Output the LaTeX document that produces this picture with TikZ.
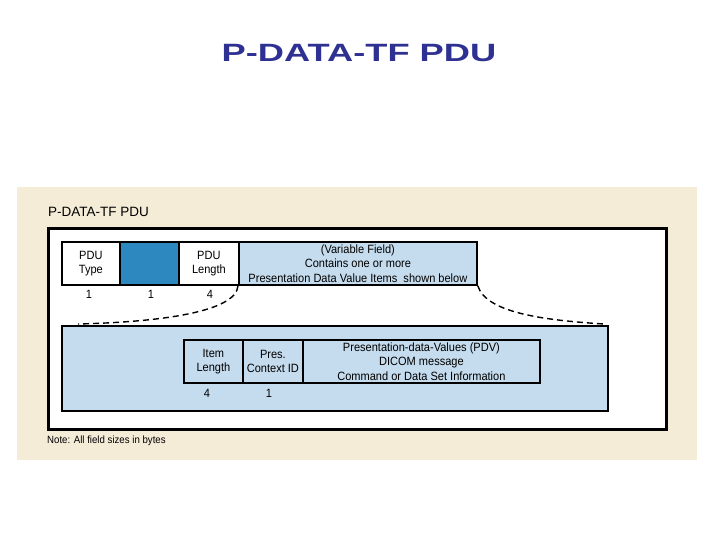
\documentclass[tikz,border=0pt]{standalone}
\usepackage{fontspec}
\setmainfont{Liberation Sans}
\newfontfamily\titlefont{Liberation Sans}[FakeStretch=1.45]
\newfontfamily\narrowfont{Liberation Sans}[FakeStretch=0.92]
\definecolor{beige}{HTML}{F5ECD8}
\definecolor{lightblu}{HTML}{C5DCEE}
\definecolor{darkblu}{HTML}{2E88C0}
\definecolor{navy}{HTML}{2E3192}
\begin{document}
\begin{tikzpicture}[x=1pt,y=-1pt,
  box/.style={draw=black, line width=1.8pt, anchor=north west, inner sep=0pt, align=center,
    font=\narrowfont\fontsize{12}{14.5}\selectfont},
  num/.style={font=\narrowfont\fontsize{12}{13}\selectfont, inner sep=0pt},
  smalltxt/.style={font=\narrowfont\fontsize{10.5}{12}\selectfont, inner sep=0pt, anchor=west},
  link/.style={draw=black, line width=1.4pt, dash pattern=on 6pt off 4pt}]
\useasboundingbox (0,0) rectangle (720,540);
\fill[white] (0,0) rectangle (720,540);
\node[fill=beige, anchor=north west, minimum width=680, minimum height=273, inner sep=0pt] (panel) at (17,187) {};
\node[font=\titlefont\bfseries\fontsize{25}{30}\selectfont, text=navy] (title) at (359,53) {P-DATA-TF PDU};
\node[font=\fontsize{13.5}{15}\selectfont, anchor=west, inner sep=0pt] (ptitle) at (48,212) {P-DATA-TF PDU};
\node[draw=black, fill=white, line width=3pt, anchor=north west, minimum width=618, minimum height=201, inner sep=0pt] (outer) at (47,227) {};
% top row
\node[box, fill=white, minimum width=58, minimum height=43] (ptype) at (61,241) {PDU\\Type};
\node[box, fill=darkblu, minimum width=59, minimum height=43] (blank) at (119,241) {};
\node[box, fill=white, minimum width=60, minimum height=43] (plen) at (178,241) {PDU\\Length};
\node[box, fill=lightblu, minimum width=238, minimum height=43] (var) at (238,241) {(Variable Field)\\Contains one or more\\Presentation Data Value Items\ \ shown below};
\node[num] (n1) at (89,294) {1};
\node[num] (n2) at (151,294) {1};
\node[num] (n3) at (210,294) {4};
% lower box
\node[draw=black, fill=lightblu, line width=2pt, anchor=north west, minimum width=546, minimum height=85, inner sep=0pt] (lower) at (61,325) {};
\coordinate (lend) at (78,324);
\coordinate (rend) at (604,324);
\draw[link] (var.south west) .. controls (236,312) and (160,322) .. (lend);
\draw[link] (var.south east) .. controls (486,312) and (540,320) .. (rend);
\node[box, fill=lightblu, minimum width=59, minimum height=43] (ilen) at (183,339) {Item\\Length};
\node[box, fill=lightblu, minimum width=60, minimum height=43] (pcid) at (242,339) {Pres.\\Context ID};
\node[box, fill=lightblu, minimum width=237, minimum height=43] (pdv) at (302,339) {Presentation-data-Values (PDV)\\DICOM message\\Command or Data Set Information};
\node[num] (n4) at (207,393) {4};
\node[num] (n5) at (269,393) {1};
\node[smalltxt] (note) at (47,441) {Note: All field sizes in bytes};
\end{tikzpicture}
\end{document}
